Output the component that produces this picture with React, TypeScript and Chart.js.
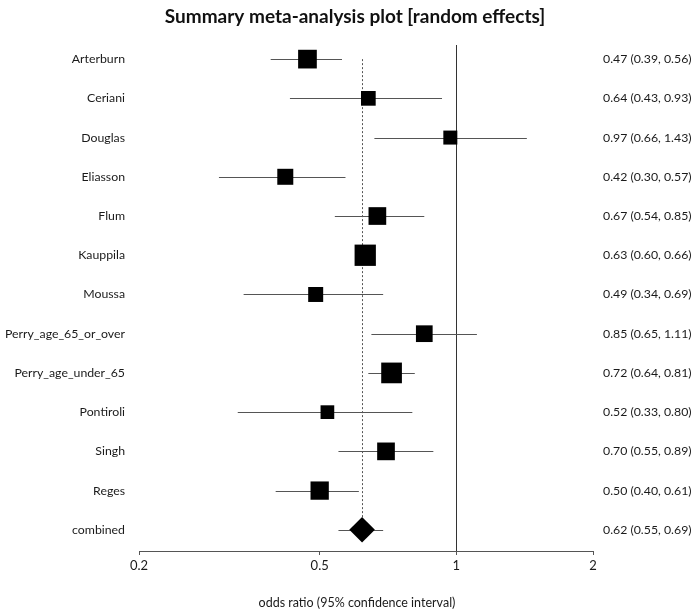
import React, { useEffect, useRef } from "react";
import { Chart, registerables } from "chart.js";

Chart.register(...registerables);

const studies = [
  "Arterburn", "Ceriani", "Douglas", "Eliasson", "Flum", "Kauppila", "Moussa",
  "Perry_age_65_or_over", "Perry_age_under_65", "Pontiroli", "Singh", "Reges",
];
const oddsRatio = [0.47, 0.64, 0.97, 0.42, 0.67, 0.63, 0.49, 0.85, 0.72, 0.52, 0.70, 0.50];
const lowerCI = [0.39, 0.43, 0.66, 0.30, 0.54, 0.60, 0.34, 0.65, 0.64, 0.33, 0.55, 0.40];
const upperCI = [0.56, 0.93, 1.43, 0.57, 0.85, 0.66, 0.69, 1.11, 0.81, 0.80, 0.89, 0.61];
// relative study weights (shown as box size)
const weights = [18.7, 14.7, 14, 16, 17.7, 21.3, 15, 16.7, 20.7, 13.7, 17.7, 18.3];

const combinedLabel = "combined";
const combinedOR = 0.62;
const combinedLower = 0.55;
const combinedUpper = 0.69;

const xTicks = [0.2, 0.5, 1, 2];

const FONT = "Lato, 'Open Sans', sans-serif";
const fmt = (v: number) => v.toFixed(2);

const forestPlugin = {
  id: "forest",
  beforeDatasetsDraw(chart: any) {
    const { ctx, chartArea, scales } = chart;
    const x = scales.x;
    const y = scales.y;
    ctx.save();
    // null line at 1
    ctx.strokeStyle = "#333";
    ctx.lineWidth = 1;
    ctx.beginPath();
    const x1 = Math.round(x.getPixelForValue(1)) + 0.5;
    ctx.moveTo(x1, chartArea.top);
    ctx.lineTo(x1, chartArea.bottom);
    ctx.stroke();
    // dotted line at combined estimate
    ctx.setLineDash([2, 2]);
    ctx.strokeStyle = "#555";
    const xc = Math.round(x.getPixelForValue(combinedOR)) + 0.5;
    ctx.beginPath();
    ctx.moveTo(xc, y.getPixelForValue(0));
    ctx.lineTo(xc, y.getPixelForValue(studies.length));
    ctx.stroke();
    ctx.setLineDash([]);
    // whiskers
    ctx.strokeStyle = "#555";
    const rows = studies.map((_, i) => [lowerCI[i], upperCI[i], i]);
    rows.push([combinedLower, combinedUpper, studies.length]);
    rows.forEach(([lo, hi, i]) => {
      const yy = Math.round(y.getPixelForValue(i)) + 0.5;
      ctx.beginPath();
      ctx.moveTo(x.getPixelForValue(lo), yy);
      ctx.lineTo(x.getPixelForValue(hi), yy);
      ctx.stroke();
    });
    ctx.restore();
  },
  afterDraw(chart: any) {
    const { ctx, scales } = chart;
    const y = scales.y;
    ctx.save();
    ctx.fillStyle = "#1a1a1a";
    ctx.textBaseline = "middle";
    ctx.font = `12.3px ${FONT}`;
    const allLabels = [...studies, combinedLabel];
    const allOR = [...oddsRatio, combinedOR];
    const allLo = [...lowerCI, combinedLower];
    const allHi = [...upperCI, combinedUpper];
    allLabels.forEach((lab, i) => {
      const yy = y.getPixelForValue(i);
      ctx.textAlign = "right";
      ctx.fillText(lab, 125, yy);
      ctx.textAlign = "left";
      ctx.fillText(`${fmt(allOR[i])} (${fmt(allLo[i])}, ${fmt(allHi[i])})`, 603, yy);
    });
    // title
    ctx.fillStyle = "#111";
    ctx.textAlign = "center";
    ctx.font = `bold 19px ${FONT}`;
    ctx.fillText("Summary meta-analysis plot [random effects]", 355, 17);
    // axis title
    ctx.fillStyle = "#1a1a1a";
    ctx.font = `12.5px ${FONT}`;
    ctx.fillText("odds ratio (95% confidence interval)", 357, 603);
    ctx.restore();
  },
};

export default function App() {
  const ref = useRef<HTMLCanvasElement | null>(null);
  useEffect(() => {
    if (!ref.current) return;
    const chart = new Chart(ref.current, {
      type: "scatter",
      data: {
        datasets: [
          {
            label: "studies",
            data: studies.map((_, i) => ({ x: oddsRatio[i], y: i })),
            pointStyle: "rect",
            pointRadius: weights.map((w) => w / Math.SQRT2),
            pointHoverRadius: weights.map((w) => w / Math.SQRT2),
            backgroundColor: "#000",
            borderWidth: 0,
          },
          {
            label: "combined",
            data: [{ x: combinedOR, y: studies.length }],
            pointStyle: "rectRot",
            pointRadius: 12.8,
            backgroundColor: "#000",
            borderWidth: 0,
          },
        ],
      },
      options: {
        animation: false,
        responsive: false,
        events: [],
        layout: { padding: { left: 139, right: 107, top: 45, bottom: 0 } },
        plugins: { legend: { display: false }, tooltip: { enabled: false }, title: { display: false } },
        scales: {
          x: {
            type: "logarithmic",
            min: 0.2,
            max: 2,
            afterBuildTicks: (s: any) => {
              s.ticks = xTicks.map((v) => ({ value: v }));
            },
            afterFit: (s: any) => {
              s.height = 62;
            },
            ticks: {
              callback: (v: any) => String(v),
              font: { family: FONT, size: 13 },
              color: "#1a1a1a",
              padding: 3,
              maxRotation: 0,
              autoSkip: false,
            },
            grid: { drawOnChartArea: false, drawTicks: true, tickLength: 4, color: "#555" },
            border: { display: true, color: "#555", width: 1 },
          },
          y: {
            type: "linear",
            display: false,
            reverse: true,
            min: -0.36,
            max: 12.54,
          },
        },
      },
      plugins: [forestPlugin],
    });
    return () => chart.destroy();
  }, []);
  return (
    <div style={{ position: "fixed", left: 0, top: 0, width: 700, height: 613, background: "#fff" }}>
      <canvas ref={ref} width={700} height={613} style={{ width: 700, height: 613 }} />
    </div>
  );
}
